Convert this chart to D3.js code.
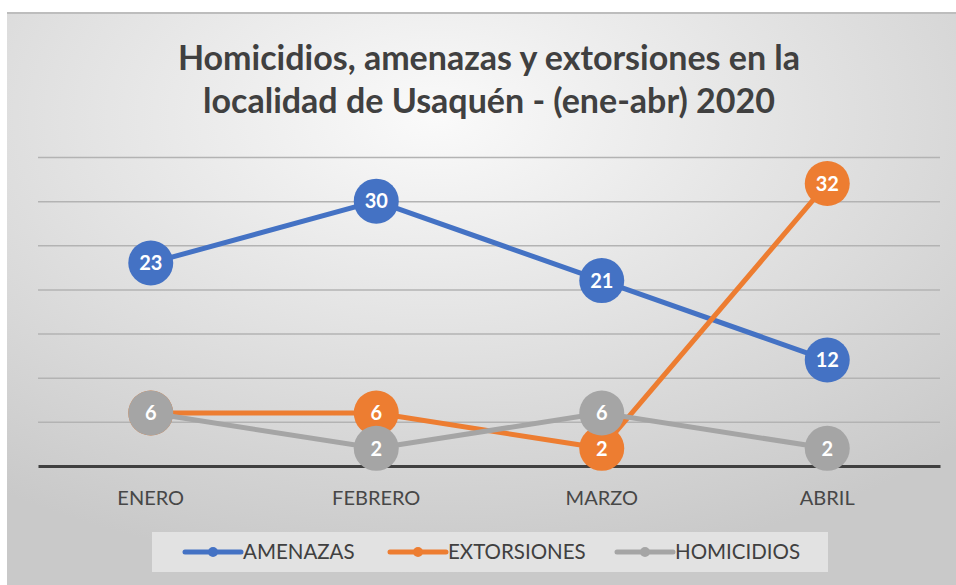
<!DOCTYPE html>
<html>
<head>
<meta charset="utf-8">
<script src="https://cdn.jsdelivr.net/npm/d3@7"></script>
<style>
  body { margin: 0; background: #fff; }
  svg { display: block; font-family: Lato, "Liberation Sans", sans-serif; }
</style>
</head>
<body>
<svg width="956" height="585"></svg>
<script>
var months = ["ENERO", "FEBRERO", "MARZO", "ABRIL"];
var amenazas = [23, 30, 21, 12];
var extorsiones = [6, 6, 2, 32];
var homicidios = [6, 2, 6, 2];
var yTicks = [0, 5, 10, 15, 20, 25, 30, 35];

var series = [
    {name: "AMENAZAS", values: amenazas, color: "#4472C4"},
    {name: "EXTORSIONES", values: extorsiones, color: "#ED7D31"},
    {name: "HOMICIDIOS", values: homicidios, color: "#A5A5A5"}
];

var svg = d3.select("svg");
var margin = {"top": 157, "right": 16, "bottom": 119, "left": 38};
var width = +svg.attr("width") - margin.left - margin.right;
var height = +svg.attr("height") - margin.top - margin.bottom;

// background
var defs = svg.append("defs");
var grad = defs.append("radialGradient").attr("id", "bg")
    .attr("cx", "45%").attr("cy", "18%").attr("r", "80%");
grad.append("stop").attr("offset", "0%").attr("stop-color", "#fafafa");
grad.append("stop").attr("offset", "100%").attr("stop-color", "#c9c9c9");

svg.append("rect")
    .attr("x", 7).attr("y", 13)
    .attr("width", 949).attr("height", 572)
    .style("fill", "url(#bg)");
svg.append("line")
    .attr("x1", 7).attr("x2", 956).attr("y1", 13).attr("y2", 13)
    .style("stroke", "#bdbdbd").style("stroke-width", 2);

// title
var title = svg.append("text")
    .attr("text-anchor", "middle")
    .style("font-weight", "bold")
    .style("font-size", "34px")
    .style("fill", "#404040");
title.append("tspan").attr("x", 489).attr("y", 70).text("Homicidios, amenazas y extorsiones en la");
title.append("tspan").attr("x", 489).attr("y", 113).text("localidad de Usaquén - (ene-abr) 2020");

var g = svg.append("g").attr("transform", "translate(" + margin.left + "," + margin.top + ")");

var x = d3.scaleBand().domain(months).range([0, width]);
var y = d3.scaleLinear().domain([0, 35]).range([height, 0]);

// gridlines
g.append("g")
    .attr("class", "grid")
    .call(d3.axisLeft(y).tickValues(yTicks.slice(1)).tickSize(-width).tickFormat(""))
    .call(function (s) {
        s.select(".domain").remove();
        s.selectAll("line").style("stroke", "#b3b3b3").style("stroke-width", 1.5);
    });

// x axis
g.append("g")
    .attr("transform", "translate(0," + height + ")")
    .call(d3.axisBottom(x).tickSize(0).tickPadding(25))
    .call(function (s) {
        s.select(".domain").style("stroke", "#404040").style("stroke-width", 3);
        s.selectAll("text")
            .style("font-family", "Lato, sans-serif")
            .style("font-size", "20px")
            .style("fill", "#474747");
    });

var line = d3.line()
    .x(function (d, i) { return x(months[i]) + x.bandwidth() / 2; })
    .y(function (d) { return y(d); });

series.forEach(function (s) {
    var sg = g.append("g");
    sg.append("path")
        .datum(s.values)
        .attr("d", line)
        .style("fill", "none")
        .style("stroke", s.color)
        .style("stroke-width", 5)
        .style("stroke-linecap", "round");

    var pts = sg.selectAll(".pt")
        .data(s.values)
        .enter().append("g")
        .attr("class", "pt")
        .attr("transform", function (d, i) {
            return "translate(" + (x(months[i]) + x.bandwidth() / 2) + "," + y(d) + ")";
        });
    pts.append("circle")
        .attr("r", 22.5)
        .style("fill", s.color);
    pts.append("text")
        .attr("text-anchor", "middle")
        .attr("dy", "0.36em")
        .style("font-weight", "bold")
        .style("font-size", "20px")
        .style("fill", "#ffffff")
        .text(function (d) { return d; });
});

// legend
var legend = svg.append("g");
legend.append("rect")
    .attr("x", 152).attr("y", 532)
    .attr("width", 676).attr("height", 40)
    .style("fill", "#e2e2e2");

var legendX = [185, 390, 617];
series.forEach(function (s, i) {
    var lg = legend.append("g").attr("transform", "translate(" + legendX[i] + ",552)");
    lg.append("line")
        .attr("x1", 0).attr("x2", 56)
        .style("stroke", s.color)
        .style("stroke-width", 5)
        .style("stroke-linecap", "round");
    lg.append("circle")
        .attr("cx", 28).attr("r", 5)
        .style("fill", s.color);
    lg.append("text")
        .attr("x", 58)
        .attr("dy", "0.36em")
        .style("font-size", "20.5px")
        .style("fill", "#404040")
        .text(s.name);
});
</script>
</body>
</html>
